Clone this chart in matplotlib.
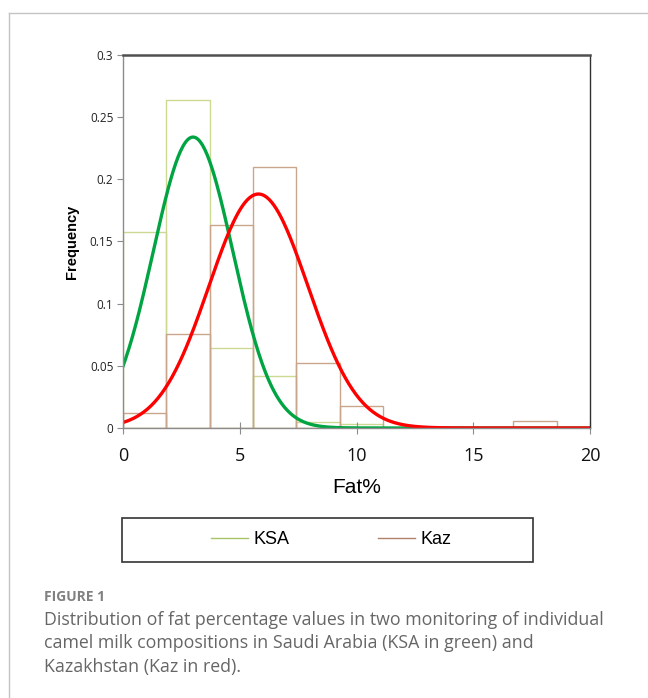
import numpy as np
import matplotlib.pyplot as plt
from matplotlib.lines import Line2D
from matplotlib.patches import Rectangle

# histogram bins (Fat%), width 13/7
bin_width = 13 / 7
bin_left = np.arange(10) * bin_width

# relative frequencies
ksa_freq = [0.158, 0.264, 0.064, 0.042, 0.005, 0.003, 0, 0, 0, 0]
kaz_freq = [0.012, 0.076, 0.163, 0.210, 0.052, 0.018, 0, 0, 0, 0.006]

# fitted normal curves (mean, sd)
ksa_mean, ksa_sd = 3.0, 1.705
kaz_mean, kaz_sd = 5.8, 2.12

x = np.linspace(0, 20, 400)
ksa_fit = np.exp(-(x - ksa_mean) ** 2 / (2 * ksa_sd ** 2)) / (ksa_sd * np.sqrt(2 * np.pi))
kaz_fit = np.exp(-(x - kaz_mean) ** 2 / (2 * kaz_sd ** 2)) / (kaz_sd * np.sqrt(2 * np.pi))

W, H = 648, 698
fig = plt.figure(figsize=(W / 100, H / 100), dpi=100)
ax = fig.add_axes([123 / W, 1 - 428 / H, 467 / W, 373 / H])

ax.bar(bin_left, ksa_freq, width=bin_width, align='edge', fill=False,
       edgecolor='#cbd992', linewidth=1.0)
ax.bar(bin_left, kaz_freq, width=bin_width, align='edge', fill=False,
       edgecolor='#c9a58c', linewidth=1.0)
ax.plot(x, ksa_fit, color='#00a443', linewidth=2.4)
ax.plot(x, kaz_fit, color='#ff0000', linewidth=2.4)

ax.set_xlim(0, 20)
ax.set_ylim(0, 0.3)
ax.set_xticks([0, 5, 10, 15, 20])
ax.set_yticks([0, 0.05, 0.1, 0.15, 0.2, 0.25, 0.3])
ax.set_yticklabels(['0', '0.05', '0.1', '0.15', '0.2', '0.25', '0.3'])

for s in ['left', 'bottom']:
    ax.spines[s].set_color('#8c8c8c')
    ax.spines[s].set_linewidth(1.0)
ax.spines['top'].set_color('#505050')
ax.spines['top'].set_linewidth(1.8)
ax.spines['right'].set_color('#303030')
ax.spines['right'].set_linewidth(1.0)

ax.tick_params(axis='y', direction='out', length=4, color='#8c8c8c',
               labelsize=8.5, pad=3, labelcolor='#222222')
ax.tick_params(axis='x', direction='inout', length=8, color='#8c8c8c',
               labelsize=13, pad=10, labelcolor='#111111')
for lab in ax.get_xticklabels() + ax.get_yticklabels():
    lab.set_family('Open Sans')

ax.set_xlabel('Fat%', fontsize=15, family='Liberation Sans', labelpad=9)
ax.set_ylabel('Frequency', fontsize=10.5, fontweight='bold',
              family='Liberation Sans', labelpad=8)

# legend box below the plot
fig.patches.append(Rectangle((122 / W, 1 - 562 / H), 411 / W, 44 / H,
                             transform=fig.transFigure, fill=False,
                             edgecolor='#333333', linewidth=1.2))
handles = [Line2D([], [], color='#a9c467', linewidth=1),
           Line2D([], [], color='#b0806a', linewidth=1)]
fig.legend(handles, ['KSA', 'Kaz'], loc='center',
           bbox_to_anchor=(331 / W, 1 - 540 / H), ncol=2, frameon=False,
           prop={'family': 'Liberation Sans', 'size': 13},
           handlelength=2.05, handletextpad=0.3, columnspacing=4.9)

# outer frame
fig.add_artist(Line2D([9 / W, 9 / W], [0, 1 - 13 / H], color='#c4c4c4',
                      linewidth=1, transform=fig.transFigure))
fig.add_artist(Line2D([9 / W, 1], [1 - 13 / H, 1 - 13 / H], color='#c4c4c4',
                      linewidth=1, transform=fig.transFigure))

# caption
fig.text(44 / W, 1 - 597 / H, 'FIGURE 1', fontsize=10, fontweight='bold',
         color='#808080', family='Open Sans', va='center')
caption = ['Distribution of fat percentage values in two monitoring of individual',
           'camel milk compositions in Saudi Arabia (KSA in green) and',
           'Kazakhstan (Kaz in red).']
for i, line in enumerate(caption):
    fig.text(44 / W, 1 - (620 + 23.5 * i) / H, line, fontsize=12.8,
             color='#666666', family='Open Sans', va='center')

fig.savefig('out.png', dpi=100)
